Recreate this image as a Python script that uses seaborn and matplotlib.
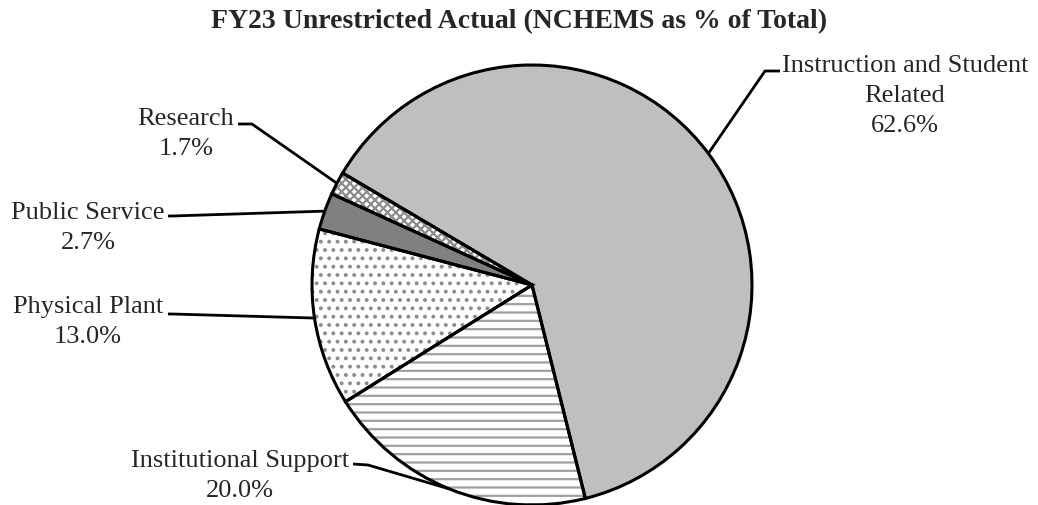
import numpy as np
import matplotlib
matplotlib.use("Agg")
import matplotlib.pyplot as plt
import seaborn as sns

# Unrestricted FY23 actuals by NCHEMS category (% of total)
categories = ["Instruction and Student\nRelated", "Institutional Support",
              "Physical Plant", "Public Service", "Research"]
shares = [62.6, 20.0, 13.0, 2.7, 1.7]
title = "FY23 Unrestricted Actual (NCHEMS as % of Total)"

sns.set_theme(style="white")
plt.rcParams["font.family"] = ["Liberation Serif", "DejaVu Serif"]
plt.rcParams["hatch.linewidth"] = 1.6

W, H = 1038, 506
fig = plt.figure(figsize=(W / 100, H / 100), dpi=100)
ax = fig.add_axes([0, 0, 1, 1])
cx, cy, R = 532, 286, 220          # pie centre / radius in pixels


def px(x, y):
    """pixel position -> data coords (pie radius = 1)"""
    return (x - cx) / R, (cy - y) / R


faces = ["#bfbfbf", "white", "white", "#808080", "white"]
hatch_cols = ["#bfbfbf", "#a0a0a0", "#8c8c8c", "#808080", "#8c8c8c"]
hatches = [None, "--", "..", None, "xxxx"]
start = 149.4

# fill layer (hatch colour comes from the edge colour, edges themselves hidden)
fills, _ = ax.pie(shares, startangle=start, counterclock=False, radius=1,
                  colors=faces, wedgeprops=dict(linewidth=0))
for w, h, hc in zip(fills, hatches, hatch_cols):
    w.set_edgecolor(hc)
    w.set_linewidth(0)
    if h:
        w.set_hatch(h)

# outline layer
outl, _ = ax.pie(shares, startangle=start, counterclock=False, radius=1,
                 colors=["none"] * len(shares),
                 wedgeprops=dict(edgecolor="black", linewidth=2.2, fill=False))

ax.set_xlim(-cx / R, (W - cx) / R)
ax.set_ylim(-(H - cy) / R, cy / R)
ax.set_aspect("equal")
ax.axis("off")

# label placement: text block centre, leader start and elbow (pixels)
label_layout = [
    dict(tx=905, ty=96, start=(780, 72), elbow=(765, 72)),
    dict(tx=240, ty=476, start=(353, 465), elbow=(368, 466)),
    dict(tx=88, ty=322, start=(168, 315), elbow=(172, 315)),
    dict(tx=88, ty=228, start=(168, 217), elbow=(172, 217)),
    dict(tx=186, ty=134, start=(238, 125), elbow=(252, 125)),
]

for w, name, val, lay in zip(outl, categories, shares, label_layout):
    mid = np.deg2rad((w.theta1 + w.theta2) / 2)
    ex, ey = np.cos(mid), np.sin(mid)
    sx, sy = px(*lay["start"])
    bx, by = px(*lay["elbow"])
    ax.plot([sx, bx, ex], [sy, by, ey], color="black", lw=2, zorder=5,
            solid_capstyle="butt", solid_joinstyle="miter")
    tx, ty = px(lay["tx"], lay["ty"])
    ax.text(tx, ty, f"{name}\n{val:.1f}%", ha="center", va="center",
            multialignment="center", fontsize=19, linespacing=1.45)

fig.text(0.5, 1 - 22 / H, title, ha="center", va="center",
         fontsize=20, fontweight="bold")

fig.savefig("out.png", dpi=100, facecolor="white")
